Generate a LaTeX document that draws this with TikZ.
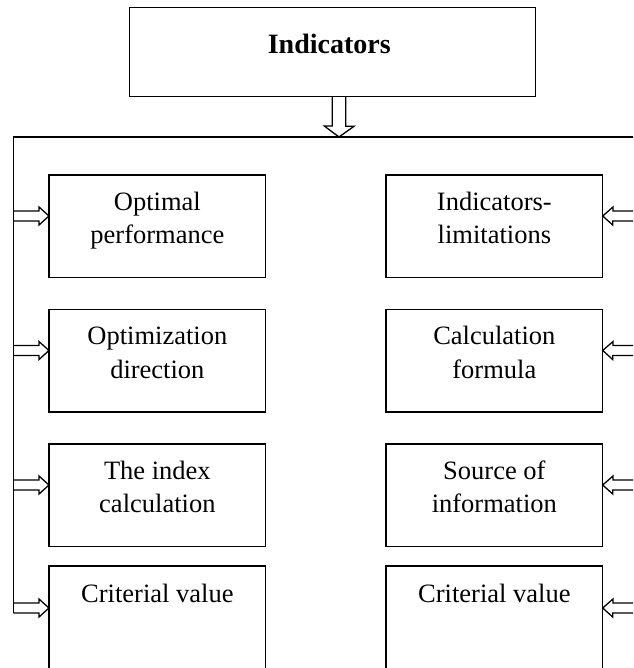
\documentclass[tikz,border=0pt]{standalone}
\usepackage{fontspec}
\setmainfont{Liberation Serif}
\usetikzlibrary{calc}
\begin{document}
\begin{tikzpicture}[x=1pt,y=-1pt,
  box/.style={draw, line width=1.4pt, minimum width=216.7pt, minimum height=102.7pt,
    anchor=north west, inner sep=0pt, outer sep=0pt},
  lastbox/.style={box, minimum height=140pt},
  lbl/.style={anchor=base, align=center, inner sep=0pt,
    font=\fontsize{26.5}{33.3}\selectfont},
  conn/.style={line width=1.3pt, line join=miter}]
\useasboundingbox (0,0) rectangle (633,668);
\clip (0,0) rectangle (633,668);

% top box
\node[draw, line width=1.4pt, anchor=north west, minimum width=406pt, minimum height=89.4pt,
  inner sep=0pt, outer sep=0pt] (top) at (129.3,7.3) {};
\node[anchor=base, inner sep=0pt, font=\fontsize{28}{33}\selectfont\bfseries] (toptxt)
  at ($(top.north)+(-3,46.5)$) {Indicators};

% left column boxes
\node[box] (b1) at (49,175) {};
\node[box] (b2) at (49,309.3) {};
\node[box] (b3) at (49,444) {};
\node[lastbox] (b4) at (49,566) {};
% right column boxes
\node[box] (r1) at (386,175) {};
\node[box] (r2) at (386,309.3) {};
\node[box] (r3) at (386,444) {};
\node[lastbox] (r4) at (386,566) {};

% texts (base anchor = baseline of the last line)
\node[lbl] (tb1) at ($(b1.north)+(0,68.8)$) {Optimal\\performance};
\node[lbl] (tb2) at ($(b2.north)+(0,68.8)$) {Optimization\\direction};
\node[lbl] (tb3) at ($(b3.north)+(0,68.8)$) {The index\\calculation};
\node[lbl] (tb4) at ($(b4.north)+(0,36.5)$) {Criterial value};
\node[lbl] (tr1) at ($(r1.north)+(0,68.8)$) {Indicators-\\limitations};
\node[lbl] (tr2) at ($(r2.north)+(0,68.8)$) {Calculation\\formula};
\node[lbl] (tr3) at ($(r3.north)+(0,68.8)$) {Source of\\information};
\node[lbl] (tr4) at ($(r4.north)+(0,36.5)$) {Criterial value};

% bus coordinates
\coordinate (tl) at (13.3,137);
\coordinate (trr) at (640,137);
\coordinate (ta) at (339,137);
\coordinate (L1) at (13.3,216);
\coordinate (L2) at (13.3,350.5);
\coordinate (L3) at (13.3,485);
\coordinate (L4) at (13.3,608);
\coordinate (R1) at (640,216);
\coordinate (R2) at (640,350.5);
\coordinate (R3) at (640,485);
\coordinate (R4) at (640,608);

% top hollow arrow
\draw[conn] (top.south) -- ++(0,29.3) -- ++(-8,0) -- (ta) -- ++(15,-10.7) -- ++(-8.3,0) -- ++(0,-29.6);

% main bus
\draw[conn] (trr) -- (tl) -- ($(L4)+(0,5)$);

% left hollow arrows
\foreach \a/\b in {L1/b1, L2/b2, L3/b3, L4/b4}{
  \draw[conn] (\a) ++(0,-5) -- ++(25.7,0) -- ++(0,-4) -- (\a -| \b.west)
    -- ++(-10,9) -- ++(0,-4) -- ++(-25.7,0);
}
% right hollow arrows
\foreach \a/\b in {R1/r1, R2/r2, R3/r3, R4/r4}{
  \draw[conn] (\a) ++(0,-5) -- ++(-27,0) -- ++(0,-4) -- (\a -| \b.east)
    -- ++(10,9) -- ++(0,-4) -- ++(27,0);
}
\end{tikzpicture}
\end{document}
